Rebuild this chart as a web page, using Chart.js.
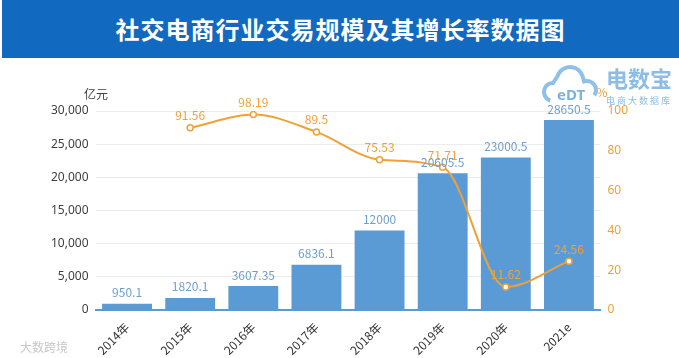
<!DOCTYPE html>
<html>
<head>
<meta charset="utf-8">
<script src="https://cdn.jsdelivr.net/npm/chart.js@4/dist/chart.umd.min.js"></script>
<style>
  html, body { margin: 0; padding: 0; background: #fff; }
  body { width: 679px; height: 358px; position: relative; overflow: hidden; font-family: "Noto Sans CJK SC", sans-serif; }
  #banner {
    position: absolute; left: 2px; top: 0; width: 677px; height: 58px;
    background: #1269c0; color: #fff; font-weight: bold; font-size: 24px;
    text-align: center; line-height: 58px; letter-spacing: 1px;
  }
  #wrap { position: absolute; left: 0; top: 0; width: 679px; height: 358px; }
</style>
</head>
<body>
<div id="wrap"><canvas id="chart" width="679" height="358"></canvas></div>
<div id="banner">社交电商行业交易规模及其增长率数据图</div>
<script>
// chart data
const years = ['2014年', '2015年', '2016年', '2017年', '2018年', '2019年', '2020年', '2021e'];
const scale = [950.1, 1820.1, 3607.35, 6836.1, 12000, 20605.5, 23000.5, 28650.5];
const growth = [null, 91.56, 98.19, 89.5, 75.53, 71.71, 11.62, 24.56];
const barLabels = ['950.1', '1820.1', '3607.35', '6836.1', '12000', '20605.5', '23000.5', '28650.5'];
const lineLabels = ['', '91.56', '98.19', '89.5', '75.53', '71.71', '11.62', '24.56'];

const blue = '#5b9bd5';
const orange = '#eea236';

// value labels, unit captions, logo and watermark
const extras = {
  id: 'extras',
  afterDatasetsDraw(chart) {
    const ctx = chart.ctx;
    ctx.save();
    ctx.font = '12px "Noto Sans CJK SC", sans-serif';
    ctx.textAlign = 'center';
    ctx.textBaseline = 'bottom';

    // bar values (dataset 1)
    ctx.fillStyle = '#6f9fcc';
    chart.getDatasetMeta(1).data.forEach((bar, i) => {
      ctx.fillText(barLabels[i], bar.x, bar.y - 5);
    });
    // growth values (dataset 0)
    ctx.fillStyle = orange;
    chart.getDatasetMeta(0).data.forEach((pt, i) => {
      if (!lineLabels[i]) return;
      ctx.fillText(lineLabels[i], pt.x, pt.y - 6);
    });

    // unit captions
    ctx.fillStyle = '#404040';
    ctx.fillText('亿元', 96, 100);
    ctx.fillStyle = orange;
    ctx.fillText('%', 602, 98);

    // logo
    ctx.strokeStyle = '#8ec0ea';
    ctx.lineWidth = 4;
    ctx.beginPath();
    ctx.arc(553, 92, 9, Math.PI * 0.6, Math.PI * 1.5);
    ctx.arc(570, 80, 13, Math.PI * 1.1, Math.PI * 1.9);
    ctx.arc(587, 90, 9, Math.PI * 1.4, Math.PI * 0.2);
    ctx.stroke();
    ctx.font = 'bold 15px "Noto Sans", sans-serif';
    ctx.fillStyle = '#7ab2e0';
    ctx.fillText('eDT', 571, 103);
    ctx.font = 'bold 22px "Noto Sans CJK SC", sans-serif';
    ctx.fillStyle = '#8dbde6';
    ctx.textAlign = 'left';
    ctx.fillText('电数宝', 606, 90);
    ctx.font = '9px "Noto Sans CJK SC", sans-serif';
    ctx.fillText('电 商 大 数 据 库', 606, 105);

    // watermark
    ctx.font = '12px "Noto Sans CJK SC", sans-serif';
    ctx.fillStyle = '#c8c8c8';
    ctx.fillText('大数跨境', 20, 353);
    ctx.restore();
  }
};

new Chart(document.getElementById('chart'), {
  data: {
    labels: years,
    datasets: [
      {
        type: 'line',
        data: growth,
        yAxisID: 'y1',
        borderColor: orange,
        borderWidth: 2,
        cubicInterpolationMode: 'monotone',
        pointRadius: 3,
        pointBackgroundColor: '#fff',
        pointBorderColor: orange,
        pointBorderWidth: 1.5,
        spanGaps: false,
        order: 0
      },
      {
        type: 'bar',
        data: scale,
        yAxisID: 'y',
        backgroundColor: blue,
        categoryPercentage: 1,
        barPercentage: 0.79,
        order: 1
      }
    ]
  },
  options: {
    responsive: false,
    animation: false,
    layout: { padding: { top: 111, left: 0, right: 0, bottom: 0 } },
    plugins: { legend: { display: false }, tooltip: { enabled: false } },
    scales: {
      x: {
        grid: { display: false },
        border: { color: blue, width: 2 },
        ticks: {
          color: '#333',
          font: { size: 12, family: '"Noto Sans CJK SC", sans-serif' },
          minRotation: 45, maxRotation: 45, padding: 2
        },
        afterFit: s => { s.height = 48; }
      },
      y: {
        position: 'left',
        min: 0, max: 30000,
        ticks: {
          stepSize: 5000, color: '#404040', padding: 7,
          font: { size: 12, family: '"Noto Sans", sans-serif' },
          callback: v => v.toLocaleString('en-US')
        },
        grid: { color: '#ececec', drawTicks: false },
        border: { display: false },
        afterFit: s => { s.width = 95.5; }
      },
      y1: {
        position: 'right',
        min: 0, max: 100,
        ticks: {
          stepSize: 20, color: orange, padding: 7,
          font: { size: 12, family: '"Noto Sans", sans-serif' }
        },
        grid: { display: false, drawTicks: false },
        border: { display: false },
        afterFit: s => { s.width = 78.5; }
      }
    }
  },
  plugins: [extras]
});
</script>
</body>
</html>
